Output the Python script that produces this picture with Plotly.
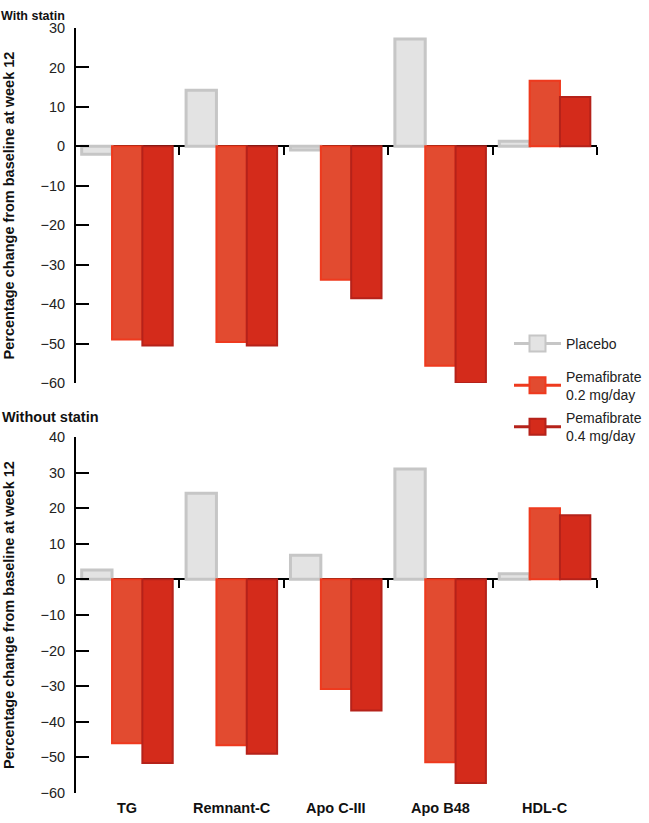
import plotly.graph_objects as go

categories = ["TG", "Remnant-C", "Apo C-III", "Apo B48", "HDL-C"]
series_names = ["Placebo", "Pemafibrate<br>0.2 mg/day", "Pemafibrate<br>0.4 mg/day"]

with_statin_placebo = [-2.0, 14.2, -0.9, 27.2, 1.3]
with_statin_02 = [-49.0, -49.6, -33.8, -55.6, 16.6]
with_statin_04 = [-50.5, -50.5, -38.5, -60.0, 12.5]

without_statin_placebo = [2.6, 24.2, 6.8, 31.0, 1.6]
without_statin_02 = [-46.0, -46.6, -30.8, -51.4, 20.0]
without_statin_04 = [-51.6, -49.0, -36.8, -57.2, 18.0]

top_ticks = [30, 20, 10, 0, -10, -20, -30, -40, -50, -60]
bottom_ticks = [40, 30, 20, 10, 0, -10, -20, -30, -40, -50, -60]

fills = ["#e3e3e3", "#e24b30", "#d42b1b"]
borders = ["#c6c6c6", "#ee3a1e", "#b5221a"]
border_w = [3, 2, 2]

FONT = "Liberation Sans, Arial, sans-serif"
W, H = 649, 823
# the photographed window shows page rows as  y' = 8 + 0.9806 * y
SHOT_OFF, SHOT_SCALE = 8.0, 0.9806

def py(t):
    """paper y for a target pixel row in the photographed picture"""
    page_y = (t - SHOT_OFF) / SHOT_SCALE
    return 1 - page_y / H

x_dom = [75 / W, 597 / W]
top_dom = [py(383), py(28)]
bot_dom = [py(793), py(437)]
top_range = [-60, 30]
bot_range = [-60, 40]

def zero_pos(dom, rng):
    return dom[0] + (0 - rng[0]) / (rng[1] - rng[0]) * (dom[1] - dom[0])

fig = go.Figure()

panels = [
    ("x", "y", [with_statin_placebo, with_statin_02, with_statin_04]),
    ("x2", "y2", [without_statin_placebo, without_statin_02, without_statin_04]),
]
for xa, ya, data in panels:
    for i, vals in enumerate(data):
        fig.add_trace(go.Bar(
            x=categories, y=vals, xaxis=xa, yaxis=ya,
            name=series_names[i].replace("<br>", " "), showlegend=False,
            marker=dict(color=fills[i], line=dict(color=borders[i], width=border_w[i])),
            hoverinfo="x+y",
        ))

# legend entries, one legend per entry for exact placement
legend_ids = ["legend", "legend2", "legend3"]
legend_rows = [344, 385.5, 427]
for i in range(3):
    fig.add_trace(go.Scatter(
        x=[None], y=[None], mode="lines+markers", name=series_names[i],
        legend=legend_ids[i],
        line=dict(color=borders[i], width=3),
        marker=dict(symbol="square", size=16, color=fills[i],
                    line=dict(color=borders[i], width=2)),
        xaxis="x", yaxis="y",
    ))

xcommon = dict(
    type="category", range=[-0.5, 4.5], anchor="free",
    showline=True, linecolor="black", linewidth=2,
    ticks="outside", tickson="boundaries", ticklen=8, tickwidth=2, tickcolor="black",
    showticklabels=False, showgrid=False, zeroline=False, layer="below traces",
    domain=x_dom, fixedrange=True,
)
ycommon = dict(
    showline=True, linecolor="black", linewidth=2,
    ticks="inside", ticklen=13, tickwidth=2, tickcolor="black",
    showgrid=False, zeroline=False, ticklabelstandoff=6,
    tickfont=dict(family=FONT, size=14.5, color="#222222"),
    anchor="free", position=x_dom[0], fixedrange=True,
)

legend_common = dict(
    x=509 / W, xanchor="left", yanchor="middle",
    font=dict(family=FONT, size=14, color="#222222"),
    itemsizing="trace", itemwidth=47, bgcolor="rgba(0,0,0,0)",
)

fig.update_layout(
    width=W, height=H, autosize=False,
    margin=dict(l=0, r=0, t=0, b=0),
    paper_bgcolor="white", plot_bgcolor="white",
    barmode="group", bargap=0.128, bargroupgap=0,
    font=dict(family=FONT, color="#222222"),
    xaxis=dict(**xcommon, position=zero_pos(top_dom, top_range)),
    xaxis2=dict(**xcommon, position=zero_pos(bot_dom, bot_range)),
    yaxis=dict(**ycommon, domain=top_dom, range=top_range, tickvals=top_ticks),
    yaxis2=dict(**ycommon, domain=bot_dom, range=bot_range, tickvals=bottom_ticks),
    legend=dict(**legend_common, y=py(legend_rows[0])),
    legend2=dict(**legend_common, y=py(legend_rows[1])),
    legend3=dict(**legend_common, y=py(legend_rows[2])),
    showlegend=True,
)

annotations = [
    dict(text="<b>With statin</b>", x=0, y=1, xref="paper", yref="paper",
         xanchor="left", yanchor="top", showarrow=False, borderpad=0,
         font=dict(family=FONT, size=12.5, color="#111111")),
    dict(text="<b>Without statin</b>", x=0, y=py(417), xref="paper", yref="paper",
         xanchor="left", yanchor="middle", showarrow=False,
         font=dict(family=FONT, size=14.5, color="#111111")),
]
for dom in (top_dom, bot_dom):
    annotations.append(dict(
        text="<b>Percentage change from baseline at week 12</b>", textangle=-90,
        x=9 / W, y=(dom[0] + dom[1]) / 2, xref="paper", yref="paper",
        xanchor="center", yanchor="middle", showarrow=False,
        font=dict(family=FONT, size=14.5, color="#111111")))
for c in categories:
    annotations.append(dict(
        text="<b>%s</b>" % c, x=c, y=-0.003, xref="x2", yref="paper",
        xanchor="center", yanchor="bottom", showarrow=False, borderpad=0,
        font=dict(family=FONT, size=14.5, color="#111111")))
fig.update_layout(annotations=annotations)

fig.write_html(
    "out.html",
    config={"responsive": False, "displayModeBar": False},
    post_script=(
        "var s=document.createElement('style');"
        "s.textContent='html,body{margin:0!important;padding:0!important;overflow:hidden!important;}';"
        "document.head.appendChild(s);"
    ),
)
